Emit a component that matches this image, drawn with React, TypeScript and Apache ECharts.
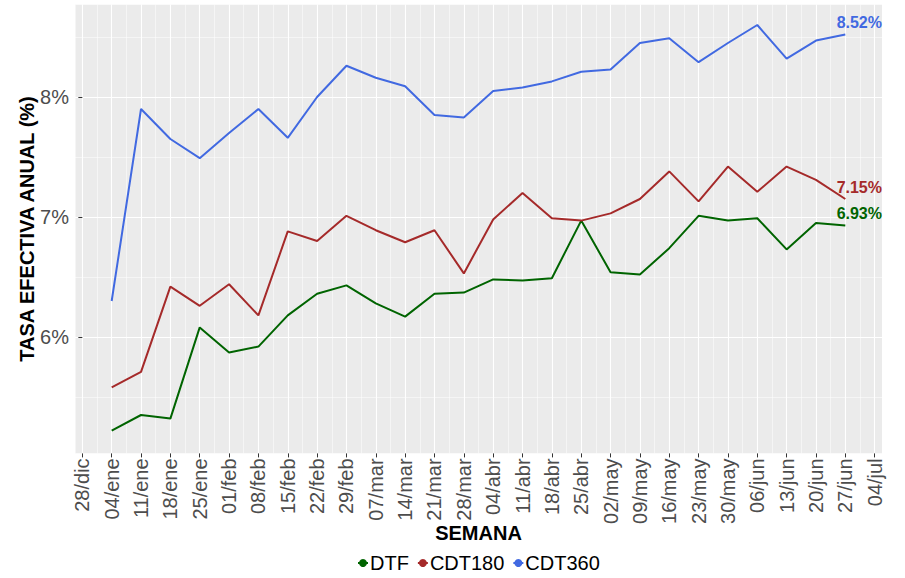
import React, { useEffect, useRef } from "react";
import * as echarts from "echarts";

const weekLabels = [
  "28/dic", "04/ene", "11/ene", "18/ene", "25/ene", "01/feb", "08/feb", "15/feb",
  "22/feb", "29/feb", "07/mar", "14/mar", "21/mar", "28/mar", "04/abr", "11/abr",
  "18/abr", "25/abr", "02/may", "09/may", "16/may", "23/may", "30/may", "06/jun",
  "13/jun", "20/jun", "27/jun", "04/jul",
];

// data weeks: 04/ene .. 27/jun
const dataWeeks = [
  "04/ene", "11/ene", "18/ene", "25/ene", "01/feb", "08/feb", "15/feb", "22/feb",
  "29/feb", "07/mar", "14/mar", "21/mar", "28/mar", "04/abr", "11/abr", "18/abr",
  "25/abr", "02/may", "09/may", "16/may", "23/may", "30/may", "06/jun", "13/jun",
  "20/jun", "27/jun",
];

const dtf = [
  5.22, 5.35, 5.32, 6.08, 5.87, 5.92, 6.18, 6.36, 6.43, 6.28, 6.17, 6.36, 6.37,
  6.48, 6.47, 6.49, 6.97, 6.54, 6.52, 6.74, 7.01, 6.97, 6.99, 6.73, 6.95, 6.93,
];
const cdt180 = [
  5.58, 5.71, 6.42, 6.26, 6.44, 6.18, 6.88, 6.80, 7.01, 6.89, 6.79, 6.89, 6.53,
  6.98, 7.20, 6.99, 6.97, 7.03, 7.15, 7.38, 7.13, 7.42, 7.21, 7.42, 7.31, 7.15,
];
const cdt360 = [
  6.30, 7.90, 7.65, 7.49, 7.70, 7.90, 7.66, 8.00, 8.26, 8.16, 8.09, 7.85, 7.83,
  8.05, 8.08, 8.13, 8.21, 8.23, 8.45, 8.49, 8.29, 8.45, 8.60, 8.32, 8.47, 8.52,
];

const yTicks = [6, 7, 8];
const seriesNames = ["DTF", "CDT180", "CDT360"];
const seriesColors = ["#006400", "#A52A2A", "#4169E1"];

const FONT = "'Liberation Sans', Arial, Helvetica, sans-serif";

function buildData(values: number[]) {
  return values.map((v, i) => {
    const x = weekLabels.indexOf(dataWeeks[i]);
    if (i === values.length - 1) {
      return {
        value: [x, v],
        label: {
          show: true,
          position: "top",
          distance: 4,
          offset: [14, 0],
          formatter: () => v.toFixed(2) + "%",
          fontFamily: FONT,
          fontWeight: "bold",
          fontSize: 16,
        },
      };
    }
    return { value: [x, v] };
  });
}

export default function App() {
  const ref = useRef<HTMLDivElement>(null);

  useEffect(() => {
    if (!ref.current) return;
    const chart = echarts.init(ref.current, undefined, { renderer: "svg" });
    const xMin = -0.25;
    const xMax = weekLabels.length - 1 + 0.25;
    const yMin = 5.03;
    const yMax = 8.77;
    const weekIdx = weekLabels.map((_, i) => i);

    const seriesValues = [dtf, cdt180, cdt360];

    chart.setOption({
      animation: false,
      backgroundColor: "#FFFFFF",
      textStyle: { fontFamily: FONT },
      grid: {
        left: 75,
        right: 23,
        top: 4.6,
        bottom: 124.6,
        show: true,
        backgroundColor: "#EBEBEB",
        borderWidth: 0,
      },
      legend: {
        bottom: 0,
        left: 352,
        data: seriesNames,
        itemWidth: 10,
        itemHeight: 10,
        itemGap: 8,
        textStyle: { fontFamily: FONT, fontSize: 20, color: "#000000", padding: [0, 0, 0, -3] },
      },
      xAxis: [
        {
          type: "value",
          gridIndex: 0,
          min: xMin,
          max: xMax,
          minInterval: 1,
          maxInterval: 1,
          axisLine: { show: false },
          axisTick: {
            show: true,
            length: 4,
            lineStyle: { color: "#333333", width: 1 },
            customValues: weekIdx,
          },
          axisLabel: {
            show: true,
            rotate: 90,
            margin: 5,
            fontSize: 20,
            color: "#4D4D4D",
            fontFamily: FONT,
            customValues: weekIdx,
            formatter: (v: number) => {
              const r = Math.round(v);
              return Math.abs(v - r) < 1e-6 && weekLabels[r] ? weekLabels[r] : "";
            },
          },
          splitLine: { show: true, lineStyle: { color: "#FFFFFF", width: 1.1 } },
          name: "SEMANA",
          nameLocation: "middle",
          nameGap: 70,
          nameMoveOverlap: false,
          nameTextStyle: { fontFamily: FONT, fontSize: 20, fontWeight: "bold", color: "#000000" },
        },
        {
          type: "value",
          gridIndex: 0,
          min: xMin,
          max: xMax,
          minInterval: 0.5,
          maxInterval: 0.5,
          axisLine: { show: false },
          axisTick: { show: false },
          axisLabel: { show: false },
          splitLine: { show: true, lineStyle: { color: "#FFFFFF", width: 0.5 } },
        },
      ],
      yAxis: [
        {
          type: "value",
          gridIndex: 0,
          min: yMin,
          max: yMax,
          minInterval: 1,
          maxInterval: 1,
          axisLine: { show: false },
          axisTick: {
            show: true,
            length: 4,
            lineStyle: { color: "#333333", width: 1 },
            customValues: yTicks,
          },
          axisLabel: {
            show: true,
            margin: 6,
            fontSize: 20,
            color: "#4D4D4D",
            fontFamily: FONT,
            customValues: yTicks,
            formatter: (v: number) => {
              const r = Math.round(v);
              return Math.abs(v - r) < 1e-6 ? r + "%" : "";
            },
          },
          splitLine: { show: true, lineStyle: { color: "#FFFFFF", width: 1.1 } },
          name: "TASA EFECTIVA ANUAL (%)",
          nameLocation: "middle",
          nameRotate: 90,
          nameGap: 38,
          nameMoveOverlap: false,
          nameTextStyle: { fontFamily: FONT, fontSize: 20, fontWeight: "bold", color: "#000000" },
        },
        {
          type: "value",
          gridIndex: 0,
          min: yMin,
          max: yMax,
          minInterval: 0.5,
          maxInterval: 0.5,
          axisLine: { show: false },
          axisTick: { show: false },
          axisLabel: { show: false },
          splitLine: { show: true, lineStyle: { color: "#FFFFFF", width: 0.5 } },
        },
      ],
      series: seriesValues.map((vals, i) => ({
        name: seriesNames[i],
        type: "line",
        xAxisIndex: 0,
        yAxisIndex: 0,
        data: buildData(vals),
        symbol: "circle",
        symbolSize: 0,
        showSymbol: true,
        color: seriesColors[i],
        lineStyle: { color: seriesColors[i], width: 2 },
        itemStyle: { color: seriesColors[i] },
        label: { show: false, color: seriesColors[i] },
        emphasis: { disabled: true },
        z: 3,
      })),
    });

    return () => chart.dispose();
  }, []);

  return (
    <div
      ref={ref}
      style={{ position: "fixed", left: 0, top: 0, width: 905, height: 578 }}
    />
  );
}
